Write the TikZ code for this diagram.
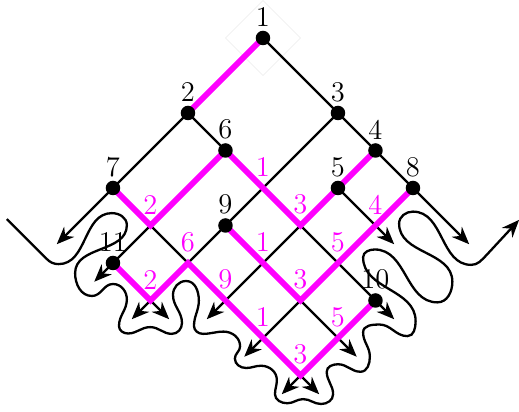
\documentclass[tikz,border=0pt]{standalone}
\usepackage{tikz}
\usetikzlibrary{arrows.meta}

\definecolor{mag}{RGB}{255,0,255}

\begin{document}
\begin{tikzpicture}[x=6mm, y=6mm, font=\fontsize{13pt}{15pt}\selectfont,
  edge/.style={line width=1.05pt, -{Stealth[length=8pt, width=6.5pt]}},
  mpath/.style={mag, line width=2.6pt},
  dot/.style={circle, fill, inner sep=0pt, minimum size=6.6pt},
  mlab/.style={mag, above=1.5pt}]
  \useasboundingbox (-7.013, 1.013) rectangle (6.827, -9.973);

  % grid points: a runs down-right, b runs down-left
  \foreach \a in {0,...,5}
    \foreach \b in {0,...,5}
      \coordinate (g\a\b) at ({\a-\b}, {-\a-\b});

  % free ends of the rows (b fixed) and of the columns (a fixed)
  \foreach \b/\a in {0/5.5, 1/4.5, 2/5.5, 3/5.5, 4/5.5, 5/2.5}
    \coordinate (rb\b) at ({\a-\b}, {-\a-\b});
  \foreach \a/\b in {0/5.5, 1/5.5, 2/5.5, 3/4.5, 4/4.5, 5/4.5}
    \coordinate (ca\a) at ({\a-\b}, {-\a-\b});

  % faint frame round the root
  \draw[black!5] (0,1) -- (1,0) -- (0,-1) -- (-1,0) -- cycle;

  % black grid lines, ending in arrows
  \foreach \s/\b in {g00/0, g31/1, g02/2, g23/3, g04/4, g15/5}
    \draw[edge] (\s) -- (rb\b);
  \foreach \s/\a in {g00/0, g12/1, g20/2, g30/3, g40/4, g52/5}
    \draw[edge] (\s) -- (ca\a);

  % the magenta paths
  \draw[mpath] (g00) -- (g02);
  \draw[mpath] (g04) -- (g14) -- (g13) -- (g12) -- (g22) -- (g32) -- (g31) -- (g30);
  \draw[mpath] (g15) -- (g25) -- (g24) -- (g34) -- (g44) -- (g54) -- (g53) -- (g52);
  \draw[mpath] (g23) -- (g33) -- (g43) -- (g42) -- (g41) -- (g40);

  % numbered points
  \foreach \p/\n in {g00/1, g02/2, g20/3, g30/4, g31/5, g12/6, g04/7, g40/8, g23/9, g52/10, g15/11}
    \node[dot, label={[label distance=-2pt]above:\n}] (v\n) at (\p) {};

  % magenta values
  \foreach \p/\v in {g14/2, g22/1, g32/3, g41/4, g24/6, g33/1, g43/3, g42/5, g25/2, g34/9, g44/1, g54/3, g53/5}
    \node[mlab] (m\p) at (\p) {\v};

  % the snake round the arrow tips
  \draw[line width=1.05pt, -{Stealth[length=8pt, width=6.5pt]}]
    (-6.83,-4.83) -- (-5.78,-5.88)
    to[out=-45, in=180] (-5.45,-6.03)
    to[out=0, in=180] (-4.03,-4.67)
    to[out=0, in=90] (-3.63,-4.99)
    to[out=-90, in=90] (-5.01,-6.27)
    to[out=-90, in=180] (-4.56,-6.88)
    to[out=0, in=180] (-4.0,-6.56)
    to[out=0, in=90] (-3.63,-6.97)
    to[out=-90, in=90] (-3.84,-7.68)
    to[out=-90, in=180] (-3.6,-7.88)
    to[out=0, in=180] (-3.01,-7.71)
    to[out=0, in=180] (-2.43,-7.89)
    to[out=0, in=-90] (-2.16,-7.6)
    to[out=90, in=-90] (-2.4,-6.85)
    to[out=90, in=180] (-2.05,-6.48)
    to[out=0, in=90] (-1.71,-7.0)
    to[out=-90, in=90] (-1.84,-7.68)
    to[out=-90, in=180] (-1.6,-7.89)
    to[out=0, in=180] (-1.05,-7.83)
    to[out=0, in=90] (-0.61,-8.22)
    to[out=-90, in=90] (-0.75,-8.55)
    to[out=-90, in=180] (-0.45,-8.8)
    to[out=0, in=180] (-0.05,-8.74)
    to[out=0, in=90] (0.37,-9.12)
    to[out=-90, in=90] (0.32,-9.5)
    to[out=-90, in=180] (0.65,-9.74)
    to[out=0, in=180] (1.07,-9.63)
    to[out=0, in=180] (1.55,-9.76)
    to[out=0, in=-90] (1.87,-9.5)
    to[out=90, in=-90] (1.7,-8.9)
    to[out=90, in=180] (2.0,-8.7)
    to[out=0, in=180] (2.6,-8.9)
    to[out=0, in=-90] (2.85,-8.5)
    to[out=90, in=-90] (2.67,-7.85)
    to[out=90, in=180] (3.1,-7.64)
    to[out=0, in=180] (3.85,-7.95)
    to[out=0, in=-90] (4.07,-7.55)
    to[out=90, in=-90] (2.67,-5.85)
    to[out=90, in=180] (2.98,-5.64)
    to[out=0, in=180] (4.65,-7.05)
    to[out=0, in=-90] (5.05,-6.5)
    to[out=90, in=-90] (3.63,-4.95)
    to[out=90, in=180] (4.0,-4.63)
    to[out=0, in=180] (5.55,-6.05)
    to[out=0, in=225] (5.95,-5.8)
    -- (6.83,-4.85);
\end{tikzpicture}
\end{document}
